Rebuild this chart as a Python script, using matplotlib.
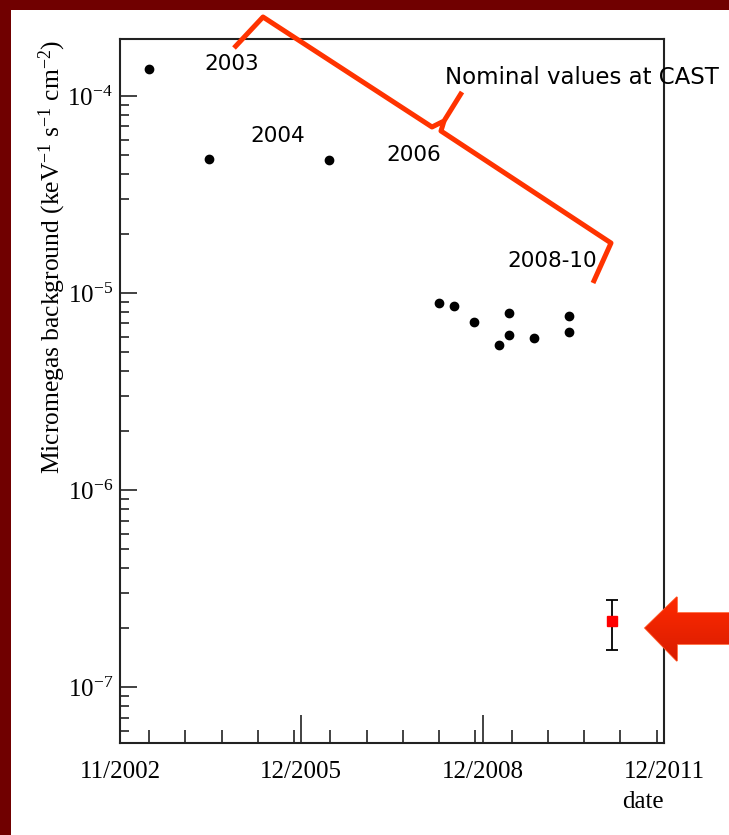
"""Micromegas background level at CAST vs date, with the annotated slide overlay."""
import numpy as np
import matplotlib
matplotlib.use("Agg")
import matplotlib.pyplot as plt
from matplotlib.patches import Polygon, Rectangle
from matplotlib.colors import LinearSegmentedColormap
from matplotlib.ticker import FixedLocator, LogLocator, NullFormatter, MultipleLocator

# measured background levels (decimal year, keV^-1 s^-1 cm^-2)
DATES = [2003.40, 2004.39, 2006.38, 2008.20, 2008.45, 2008.78,
         2009.36, 2009.19, 2009.36, 2009.77, 2010.35, 2010.35]
LEVELS = [1.37e-4, 4.79e-5, 4.73e-5, 8.9e-6, 8.6e-6, 7.13e-6,
          7.9e-6, 5.45e-6, 6.12e-6, 5.9e-6, 7.64e-6, 6.34e-6]

# latest point with its error bar
NEW_DATE = [2011.06]
NEW_LEVEL = [2.17e-7]
NEW_LOW = [1.55e-7]
NEW_HIGH = [2.77e-7]

TICK_DATES = [2002.92, 2005.92, 2008.92, 2011.92]
TICK_LABELS = ["11/2002", "12/2005", "12/2008", "12/2011"]
DECADES = [1e-7, 1e-6, 1e-5, 1e-4]
DECADE_LABELS = [r"$10^{-7}$", r"$10^{-6}$", r"$10^{-5}$", r"$10^{-4}$"]
PERIODS = ["2003", "2004", "2006", "2008-10"]

W, H = 729, 835
RED = "#ff3300"
MAROON = "#700000"

plt.rcParams["mathtext.fontset"] = "custom"
plt.rcParams["mathtext.rm"] = "Liberation Serif"
plt.rcParams["mathtext.it"] = "Liberation Serif:italic"
SERIF = dict(family="Liberation Serif", size=18)

fig = plt.figure(figsize=(W / 100, H / 100), dpi=100)
ax = fig.add_axes([120 / W, 1 - 743 / H, 544 / W, 704 / H])

ax.plot(DATES, LEVELS, "o", color="black", markersize=6, zorder=3)
lev = np.array(NEW_LEVEL)
yerr = [lev - np.array(NEW_LOW), np.array(NEW_HIGH) - lev]
ax.errorbar(NEW_DATE, NEW_LEVEL, yerr=yerr, fmt="s", color="#ff0000",
            ecolor="black", elinewidth=1.3, capsize=4, capthick=1.3,
            markersize=7.5, zorder=3)

ax.set_yscale("log")
ax.set_xlim(TICK_DATES[0], TICK_DATES[-1])
ax.set_ylim(10 ** -7.284, 10 ** -3.711)

ax.xaxis.set_major_locator(FixedLocator(TICK_DATES))
ax.set_xticklabels(TICK_LABELS, fontdict=SERIF)
ax.xaxis.set_minor_locator(MultipleLocator(0.6))
ax.yaxis.set_major_locator(FixedLocator(DECADES))
ax.set_yticklabels(DECADE_LABELS, fontdict=SERIF)
ax.yaxis.set_minor_locator(LogLocator(base=10, subs=np.arange(2, 10)))
ax.yaxis.set_minor_formatter(NullFormatter())

ax.tick_params(axis="both", which="both", direction="in", color="#222222",
               width=1.2, top=False, right=False)
ax.tick_params(axis="x", which="major", length=20, pad=13)
ax.tick_params(axis="x", which="minor", length=9.5)
ax.tick_params(axis="y", which="major", length=12, pad=5)
ax.tick_params(axis="y", which="minor", length=6.5)
for sp in ax.spines.values():
    sp.set_linewidth(1.5)
    sp.set_color("#222222")

ax.set_xlabel("date", loc="right", labelpad=6, **SERIF)

# overlay in pixel coordinates for the slide decorations
ov = fig.add_axes([0, 0, 1, 1], zorder=5)
ov.set_xlim(0, W)
ov.set_ylim(H, 0)
ov.axis("off")
ov.patch.set_alpha(0)

ov.add_patch(Rectangle((0, 0), W, 10, color=MAROON, lw=0))
ov.add_patch(Rectangle((0, 0), 11, H, color=MAROON, lw=0))

ov.text(52, 40, r"Micromegas background (keV$^{-1}$ s$^{-1}$ cm$^{-2}$)",
        rotation=90, ha="center", va="top", family="Liberation Serif", size=18.4)

bracket_left = [(234, 48), (263, 17), (432, 127), (444, 121), (462, 92)]
bracket_right = [(444, 121), (441, 131), (611, 243), (593, 283)]
for pts in (bracket_left, bracket_right):
    xs, ys = zip(*pts)
    ov.plot(xs, ys, color=RED, lw=3.6, solid_joinstyle="round",
            solid_capstyle="butt")

sans = dict(family="DejaVu Sans", size=15.5, color="black")
for label, (x, y) in zip(PERIODS, [(232, 64), (278, 136), (414, 155), (552, 261)]):
    ov.text(x, y, label, ha="center", va="center", **sans)
ov.text(445, 78, "Nominal values at CAST", ha="left", va="center",
        family="DejaVu Sans", size=16.5, color="black")

arrow_pts = [(645, 628), (677, 597), (677, 613), (729, 613),
             (729, 644), (677, 644), (677, 661)]
arrow = Polygon(arrow_pts, closed=True, facecolor="none",
                edgecolor="#ff5a2a", lw=1.2)
ov.add_patch(arrow)
grad = np.linspace(0, 1, 64).reshape(-1, 1)
cmap = LinearSegmentedColormap.from_list("arrow", ["#ff2a00", "#d81c00"])
im = ov.imshow(grad, extent=(640, 729, 662, 596), cmap=cmap,
               aspect="auto", origin="upper", zorder=1)
im.set_clip_path(arrow)
ov.set_xlim(0, W)
ov.set_ylim(H, 0)

fig.savefig("out.png", dpi=100)
